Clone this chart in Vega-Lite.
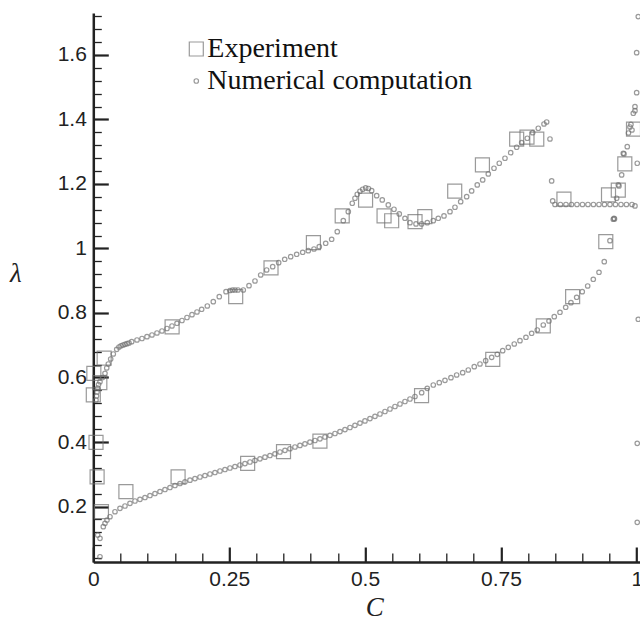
{
"$schema": "https://vega.github.io/schema/vega-lite/v6.json",
"width": 547, "height": 549,
"autosize": {"type": "none"},
"padding": {"left": 93.3, "top": 13, "right": 0, "bottom": 59},
"background": "white",
"config": {"view": {"stroke": null}},
"data": {"values": [
{"s":"Experiment","c":0.001,"l":0.613},{"s":"Experiment","c":0.000,"l":0.546},{"s":"Experiment","c":0.020,"l":0.660},{"s":"Experiment","c":0.012,"l":0.584},
{"s":"Experiment","c":0.145,"l":0.757},{"s":"Experiment","c":0.262,"l":0.851},{"s":"Experiment","c":0.327,"l":0.940},{"s":"Experiment","c":0.405,"l":1.018},
{"s":"Experiment","c":0.458,"l":1.101},{"s":"Experiment","c":0.501,"l":1.150},{"s":"Experiment","c":0.535,"l":1.101},{"s":"Experiment","c":0.549,"l":1.086},
{"s":"Experiment","c":0.592,"l":1.083},{"s":"Experiment","c":0.610,"l":1.099},{"s":"Experiment","c":0.665,"l":1.178},{"s":"Experiment","c":0.716,"l":1.259},
{"s":"Experiment","c":0.779,"l":1.339},{"s":"Experiment","c":0.798,"l":1.345},{"s":"Experiment","c":0.816,"l":1.339},{"s":"Experiment","c":0.866,"l":1.153},
{"s":"Experiment","c":0.948,"l":1.166},{"s":"Experiment","c":0.966,"l":1.181},{"s":"Experiment","c":0.978,"l":1.262},{"s":"Experiment","c":0.994,"l":1.370},
{"s":"Experiment","c":0.005,"l":0.399},{"s":"Experiment","c":0.007,"l":0.292},{"s":"Experiment","c":0.015,"l":0.184},{"s":"Experiment","c":0.060,"l":0.246},
{"s":"Experiment","c":0.156,"l":0.292},{"s":"Experiment","c":0.284,"l":0.334},{"s":"Experiment","c":0.350,"l":0.370},{"s":"Experiment","c":0.417,"l":0.403},
{"s":"Experiment","c":0.604,"l":0.544},{"s":"Experiment","c":0.735,"l":0.656},{"s":"Experiment","c":0.828,"l":0.760},{"s":"Experiment","c":0.882,"l":0.851},
{"s":"Experiment","c":0.943,"l":1.021},
{"s":"Numerical computation","c":0.0123,"l":0.0443},{"s":"Numerical computation","c":0.0081,"l":0.1116},{"s":"Numerical computation","c":0.0123,"l":0.1014},{"s":"Numerical computation","c":0.0184,"l":0.1374},
{"s":"Numerical computation","c":0.0215,"l":0.1479},{"s":"Numerical computation","c":0.0252,"l":0.1581},{"s":"Numerical computation","c":0.0307,"l":0.1684},{"s":"Numerical computation","c":0.0399,"l":0.1839},
{"s":"Numerical computation","c":0.0491,"l":0.1944},{"s":"Numerical computation","c":0.0583,"l":0.2016},{"s":"Numerical computation","c":0.0675,"l":0.2099},{"s":"Numerical computation","c":0.0767,"l":0.2171},
{"s":"Numerical computation","c":0.0859,"l":0.2223},{"s":"Numerical computation","c":0.0951,"l":0.2279},{"s":"Numerical computation","c":0.1043,"l":0.2341},{"s":"Numerical computation","c":0.1135,"l":0.2403},
{"s":"Numerical computation","c":0.1227,"l":0.2465},{"s":"Numerical computation","c":0.1319,"l":0.2527},{"s":"Numerical computation","c":0.1411,"l":0.2589},{"s":"Numerical computation","c":0.1503,"l":0.2651},
{"s":"Numerical computation","c":0.1595,"l":0.2713},{"s":"Numerical computation","c":0.1687,"l":0.2766},{"s":"Numerical computation","c":0.1779,"l":0.2816},{"s":"Numerical computation","c":0.1871,"l":0.2865},
{"s":"Numerical computation","c":0.1963,"l":0.2915},{"s":"Numerical computation","c":0.2055,"l":0.2961},{"s":"Numerical computation","c":0.2147,"l":0.3008},{"s":"Numerical computation","c":0.2239,"l":0.3054},
{"s":"Numerical computation","c":0.2331,"l":0.3101},{"s":"Numerical computation","c":0.2423,"l":0.3147},{"s":"Numerical computation","c":0.2515,"l":0.3194},{"s":"Numerical computation","c":0.2607,"l":0.3240},
{"s":"Numerical computation","c":0.2699,"l":0.3287},{"s":"Numerical computation","c":0.2791,"l":0.3330},{"s":"Numerical computation","c":0.2883,"l":0.3380},{"s":"Numerical computation","c":0.2975,"l":0.3429},
{"s":"Numerical computation","c":0.3067,"l":0.3479},{"s":"Numerical computation","c":0.3159,"l":0.3529},{"s":"Numerical computation","c":0.3251,"l":0.3581},{"s":"Numerical computation","c":0.3343,"l":0.3634},
{"s":"Numerical computation","c":0.3435,"l":0.3690},{"s":"Numerical computation","c":0.3527,"l":0.3743},{"s":"Numerical computation","c":0.3619,"l":0.3792},{"s":"Numerical computation","c":0.3711,"l":0.3845},
{"s":"Numerical computation","c":0.3803,"l":0.3895},{"s":"Numerical computation","c":0.3895,"l":0.3944},{"s":"Numerical computation","c":0.3987,"l":0.3997},{"s":"Numerical computation","c":0.4079,"l":0.4047},
{"s":"Numerical computation","c":0.4171,"l":0.4099},{"s":"Numerical computation","c":0.4263,"l":0.4155},{"s":"Numerical computation","c":0.4355,"l":0.4208},{"s":"Numerical computation","c":0.4447,"l":0.4264},
{"s":"Numerical computation","c":0.4539,"l":0.4322},{"s":"Numerical computation","c":0.4631,"l":0.4384},{"s":"Numerical computation","c":0.4723,"l":0.4450},{"s":"Numerical computation","c":0.4815,"l":0.4518},
{"s":"Numerical computation","c":0.4907,"l":0.4586},{"s":"Numerical computation","c":0.4999,"l":0.4654},{"s":"Numerical computation","c":0.5091,"l":0.4726},{"s":"Numerical computation","c":0.5183,"l":0.4797},
{"s":"Numerical computation","c":0.5275,"l":0.4868},{"s":"Numerical computation","c":0.5367,"l":0.4946},{"s":"Numerical computation","c":0.5459,"l":0.5023},{"s":"Numerical computation","c":0.5551,"l":0.5101},
{"s":"Numerical computation","c":0.5643,"l":0.5178},{"s":"Numerical computation","c":0.5735,"l":0.5256},{"s":"Numerical computation","c":0.5827,"l":0.5333},{"s":"Numerical computation","c":0.5919,"l":0.5411},
{"s":"Numerical computation","c":0.6042,"l":0.5529},{"s":"Numerical computation","c":0.6145,"l":0.5665},{"s":"Numerical computation","c":0.6256,"l":0.5767},{"s":"Numerical computation","c":0.6366,"l":0.5839},
{"s":"Numerical computation","c":0.6471,"l":0.5913},{"s":"Numerical computation","c":0.6581,"l":0.5994},{"s":"Numerical computation","c":0.6686,"l":0.6078},{"s":"Numerical computation","c":0.6797,"l":0.6149},
{"s":"Numerical computation","c":0.6900,"l":0.6233},{"s":"Numerical computation","c":0.7010,"l":0.6335},{"s":"Numerical computation","c":0.7115,"l":0.6419},{"s":"Numerical computation","c":0.7220,"l":0.6521},
{"s":"Numerical computation","c":0.7330,"l":0.6626},{"s":"Numerical computation","c":0.7433,"l":0.6719},{"s":"Numerical computation","c":0.7533,"l":0.6831},{"s":"Numerical computation","c":0.7636,"l":0.6936},
{"s":"Numerical computation","c":0.7746,"l":0.7039},{"s":"Numerical computation","c":0.7851,"l":0.7141},{"s":"Numerical computation","c":0.7961,"l":0.7247},{"s":"Numerical computation","c":0.8066,"l":0.7371},
{"s":"Numerical computation","c":0.8169,"l":0.7473},{"s":"Numerical computation","c":0.8280,"l":0.7628},{"s":"Numerical computation","c":0.8385,"l":0.7752},{"s":"Numerical computation","c":0.8482,"l":0.7885},
{"s":"Numerical computation","c":0.8587,"l":0.8022},{"s":"Numerical computation","c":0.8692,"l":0.8177},{"s":"Numerical computation","c":0.8789,"l":0.8319},{"s":"Numerical computation","c":0.8894,"l":0.8487},
{"s":"Numerical computation","c":0.8997,"l":0.8660},{"s":"Numerical computation","c":0.9097,"l":0.8837},{"s":"Numerical computation","c":0.9200,"l":0.9045},{"s":"Numerical computation","c":0.9305,"l":0.9262},
{"s":"Numerical computation","c":0.9402,"l":0.9591},{"s":"Numerical computation","c":0.9507,"l":1.0242},{"s":"Numerical computation","c":0.9568,"l":1.0906},{"s":"Numerical computation","c":0.9581,"l":1.0936},
{"s":"Numerical computation","c":0.9590,"l":1.0915},
{"s":"Numerical computation","c":0.9630,"l":1.1557},{"s":"Numerical computation","c":0.9660,"l":1.1969},{"s":"Numerical computation","c":0.9673,"l":1.1938},{"s":"Numerical computation","c":0.9722,"l":1.2279},
{"s":"Numerical computation","c":0.9752,"l":1.2952},{"s":"Numerical computation","c":0.9765,"l":1.2930},{"s":"Numerical computation","c":0.9825,"l":1.3157},{"s":"Numerical computation","c":0.9847,"l":1.3581},
{"s":"Numerical computation","c":0.9875,"l":1.3767},{"s":"Numerical computation","c":0.9893,"l":1.3845},{"s":"Numerical computation","c":0.9912,"l":1.3674},{"s":"Numerical computation","c":0.9936,"l":1.4192},
{"s":"Numerical computation","c":0.9967,"l":1.4397},{"s":"Numerical computation","c":0.9967,"l":1.4273},{"s":"Numerical computation","c":0.9998,"l":1.4831},{"s":"Numerical computation","c":0.9998,"l":1.6071},
{"s":"Numerical computation","c":1.0028,"l":1.7188},{"s":"Numerical computation","c":1.0009,"l":1.2642},{"s":"Numerical computation","c":0.9967,"l":1.1318},{"s":"Numerical computation","c":1.0028,"l":0.7805},
{"s":"Numerical computation","c":1.0009,"l":0.3960},{"s":"Numerical computation","c":1.0009,"l":0.1510},
{"s":"Numerical computation","c":0.0050,"l":0.5302},{"s":"Numerical computation","c":0.0059,"l":0.5426},{"s":"Numerical computation","c":0.0068,"l":0.5550},{"s":"Numerical computation","c":0.0081,"l":0.5674},
{"s":"Numerical computation","c":0.0096,"l":0.5783},{"s":"Numerical computation","c":0.0123,"l":0.5870},{"s":"Numerical computation","c":0.0169,"l":0.6000},{"s":"Numerical computation","c":0.0215,"l":0.6130},
{"s":"Numerical computation","c":0.0247,"l":0.6295},{"s":"Numerical computation","c":0.0276,"l":0.6419},{"s":"Numerical computation","c":0.0320,"l":0.6574},{"s":"Numerical computation","c":0.0368,"l":0.6729},
{"s":"Numerical computation","c":0.0431,"l":0.6874},{"s":"Numerical computation","c":0.0473,"l":0.6946},{"s":"Numerical computation","c":0.0510,"l":0.6983},{"s":"Numerical computation","c":0.0546,"l":0.7008},
{"s":"Numerical computation","c":0.0583,"l":0.7029},{"s":"Numerical computation","c":0.0620,"l":0.7048},{"s":"Numerical computation","c":0.0657,"l":0.7070},{"s":"Numerical computation","c":0.0707,"l":0.7110},
{"s":"Numerical computation","c":0.0804,"l":0.7163},{"s":"Numerical computation","c":0.0896,"l":0.7209},{"s":"Numerical computation","c":0.0988,"l":0.7265},{"s":"Numerical computation","c":0.1080,"l":0.7318},
{"s":"Numerical computation","c":0.1172,"l":0.7380},{"s":"Numerical computation","c":0.1264,"l":0.7442},{"s":"Numerical computation","c":0.1356,"l":0.7519},{"s":"Numerical computation","c":0.1448,"l":0.7597},
{"s":"Numerical computation","c":0.1540,"l":0.7681},{"s":"Numerical computation","c":0.1632,"l":0.7767},{"s":"Numerical computation","c":0.1724,"l":0.7860},{"s":"Numerical computation","c":0.1816,"l":0.7947},
{"s":"Numerical computation","c":0.1908,"l":0.8031},{"s":"Numerical computation","c":0.1994,"l":0.8115},{"s":"Numerical computation","c":0.2098,"l":0.8217},{"s":"Numerical computation","c":0.2208,"l":0.8350},
{"s":"Numerical computation","c":0.2318,"l":0.8505},{"s":"Numerical computation","c":0.2442,"l":0.8660},{"s":"Numerical computation","c":0.2515,"l":0.8698},{"s":"Numerical computation","c":0.2561,"l":0.8713},
{"s":"Numerical computation","c":0.2607,"l":0.8713},{"s":"Numerical computation","c":0.2662,"l":0.8713},{"s":"Numerical computation","c":0.2760,"l":0.8713},{"s":"Numerical computation","c":0.2865,"l":0.8847},
{"s":"Numerical computation","c":0.2975,"l":0.8992},{"s":"Numerical computation","c":0.3080,"l":0.9178},{"s":"Numerical computation","c":0.3190,"l":0.9333},{"s":"Numerical computation","c":0.3301,"l":0.9436},
{"s":"Numerical computation","c":0.3411,"l":0.9560},{"s":"Numerical computation","c":0.3522,"l":0.9665},{"s":"Numerical computation","c":0.3632,"l":0.9746},{"s":"Numerical computation","c":0.3742,"l":0.9820},
{"s":"Numerical computation","c":0.3853,"l":0.9882},{"s":"Numerical computation","c":0.3956,"l":0.9932},{"s":"Numerical computation","c":0.4061,"l":0.9984},{"s":"Numerical computation","c":0.4158,"l":1.0056},
{"s":"Numerical computation","c":0.4276,"l":1.0161},{"s":"Numerical computation","c":0.4386,"l":1.0285},{"s":"Numerical computation","c":0.4489,"l":1.0521},{"s":"Numerical computation","c":0.4600,"l":1.0862},
{"s":"Numerical computation","c":0.4692,"l":1.1141},{"s":"Numerical computation","c":0.4765,"l":1.1402},{"s":"Numerical computation","c":0.4815,"l":1.1557},{"s":"Numerical computation","c":0.4857,"l":1.1681},
{"s":"Numerical computation","c":0.4907,"l":1.1774},{"s":"Numerical computation","c":0.4957,"l":1.1836},{"s":"Numerical computation","c":0.5012,"l":1.1876},{"s":"Numerical computation","c":0.5063,"l":1.1860},
{"s":"Numerical computation","c":0.5122,"l":1.1792},{"s":"Numerical computation","c":0.5214,"l":1.1637},{"s":"Numerical computation","c":0.5317,"l":1.1504},{"s":"Numerical computation","c":0.5428,"l":1.1349},
{"s":"Numerical computation","c":0.5533,"l":1.1216},{"s":"Numerical computation","c":0.5630,"l":1.1070},{"s":"Numerical computation","c":0.5735,"l":1.0936},{"s":"Numerical computation","c":0.5827,"l":1.0800},
{"s":"Numerical computation","c":0.5938,"l":1.0760},{"s":"Numerical computation","c":0.6042,"l":1.0760},{"s":"Numerical computation","c":0.6145,"l":1.0800},{"s":"Numerical computation","c":0.6256,"l":1.0862},
{"s":"Numerical computation","c":0.6348,"l":1.0936},{"s":"Numerical computation","c":0.6453,"l":1.1008},{"s":"Numerical computation","c":0.6563,"l":1.1141},{"s":"Numerical computation","c":0.6655,"l":1.1278},
{"s":"Numerical computation","c":0.6760,"l":1.1451},{"s":"Numerical computation","c":0.6870,"l":1.1606},{"s":"Numerical computation","c":0.6962,"l":1.1783},{"s":"Numerical computation","c":0.7065,"l":1.1969},
{"s":"Numerical computation","c":0.7165,"l":1.2124},{"s":"Numerical computation","c":0.7268,"l":1.2310},{"s":"Numerical computation","c":0.7373,"l":1.2487},{"s":"Numerical computation","c":0.7470,"l":1.2642},
{"s":"Numerical computation","c":0.7575,"l":1.2797},{"s":"Numerical computation","c":0.7680,"l":1.2971},{"s":"Numerical computation","c":0.7790,"l":1.3138},{"s":"Numerical computation","c":0.7882,"l":1.3281},
{"s":"Numerical computation","c":0.7985,"l":1.3417},{"s":"Numerical computation","c":0.8085,"l":1.3591},{"s":"Numerical computation","c":0.8188,"l":1.3727},{"s":"Numerical computation","c":0.8293,"l":1.3860},
{"s":"Numerical computation","c":0.8342,"l":1.3922},{"s":"Numerical computation","c":0.8403,"l":1.3395},{"s":"Numerical computation","c":0.8434,"l":1.2093},{"s":"Numerical computation","c":0.8453,"l":1.1473},
{"s":"Numerical computation","c":0.8495,"l":1.1364},{"s":"Numerical computation","c":0.8596,"l":1.1364},{"s":"Numerical computation","c":0.8697,"l":1.1364},{"s":"Numerical computation","c":0.8799,"l":1.1364},
{"s":"Numerical computation","c":0.8900,"l":1.1364},{"s":"Numerical computation","c":0.9001,"l":1.1364},{"s":"Numerical computation","c":0.9102,"l":1.1364},{"s":"Numerical computation","c":0.9203,"l":1.1364},
{"s":"Numerical computation","c":0.9305,"l":1.1364},{"s":"Numerical computation","c":0.9406,"l":1.1364},{"s":"Numerical computation","c":0.9507,"l":1.1364},{"s":"Numerical computation","c":0.9608,"l":1.1364},
{"s":"Numerical computation","c":0.9709,"l":1.1364},{"s":"Numerical computation","c":0.9810,"l":1.1364},{"s":"Numerical computation","c":0.9912,"l":1.1364}
]},
"mark": {"type": "point", "filled": false, "color": "#707070", "strokeWidth": 1.2, "clip": false},
"encoding": {
  "x": {"field": "c", "type": "quantitative",
    "scale": {"domain": [0, 1.0065], "nice": false, "zero": false},
    "axis": {
      "values": [0,0.05,0.1,0.15,0.2,0.25,0.3,0.35,0.4,0.45,0.5,0.55,0.6,0.65,0.7,0.75,0.8,0.85,0.9,0.95,1],
      "labelExpr": "abs(datum.value*4-round(datum.value*4))<0.001 ? toString(round(datum.value*4)/4) : ''",
      "tickSize": {"condition": {"test": "abs(datum.value*4-round(datum.value*4))<0.001", "value": -15}, "value": -9},
      "tickWidth": {"condition": {"test": "abs(datum.value*4-round(datum.value*4))<0.001", "value": 2.2}, "value": 1.3},
      "tickColor": "#222", "domainColor": "#222", "domainWidth": 2.5, "grid": false,
      "labelFont": "Liberation Sans", "labelFontSize": 21, "labelColor": "#222", "labelPadding": 22,
      "labelFlush": false, "labelOverlap": false,
      "title": "C", "titleFont": "Liberation Serif", "titleFontStyle": "italic", "titleFontWeight": "normal",
      "titleFontSize": 27, "titleColor": "#222", "titleX": 281, "titleY": 46, "titleBaseline": "middle", "titleAlign": "center"
    }
  },
  "y": {"field": "l", "type": "quantitative",
    "scale": {"domain": [0.028, 1.73], "nice": false, "zero": false},
    "axis": {
      "values": [0.04,0.08,0.12,0.16,0.2,0.24,0.28,0.32,0.36,0.4,0.44,0.48,0.52,0.56,0.6,0.64,0.68,0.72,0.76,0.8,0.84,0.88,0.92,0.96,1,1.04,1.08,1.12,1.16,1.2,1.24,1.28,1.32,1.36,1.4,1.44,1.48,1.52,1.56,1.6,1.64,1.68,1.72],
      "labelExpr": "abs(datum.value*5-round(datum.value*5))<0.001 ? toString(round(datum.value*5)/5) : ''",
      "tickSize": {"condition": {"test": "abs(datum.value*5-round(datum.value*5))<0.001", "value": -15}, "value": -8},
      "tickWidth": {"condition": {"test": "abs(datum.value*5-round(datum.value*5))<0.001", "value": 2.2}, "value": 1.3},
      "tickColor": "#222", "domainColor": "#222", "domainWidth": 2.5, "grid": false,
      "labelFont": "Liberation Sans", "labelFontSize": 21, "labelColor": "#222", "labelPadding": 22,
      "labelFlush": false, "labelOverlap": false,
      "title": "λ", "titleAngle": 0, "titleFont": "Liberation Serif", "titleFontStyle": "italic", "titleFontWeight": "normal",
      "titleFontSize": 27, "titleColor": "#222", "titleX": -78, "titleY": 260, "titleBaseline": "middle", "titleAlign": "center"
    }
  },
  "shape": {"field": "s", "type": "nominal",
    "scale": {"domain": ["Experiment", "Numerical computation"], "range": ["square", "circle"]},
    "legend": {"orient": "none", "legendX": 89, "legendY": 22, "title": null, "padding": 0,
      "labelFont": "Liberation Serif", "labelFontSize": 28, "labelColor": "#111", "labelOffset": -3, "labelLimit": 0,
      "rowPadding": 4, "symbolStrokeColor": "#707070", "symbolStrokeWidth": 1.2}
  },
  "size": {"field": "s", "type": "nominal",
    "scale": {"domain": ["Experiment", "Numerical computation"], "range": [196, 20]},
    "legend": {"orient": "none", "legendX": 89, "legendY": 22, "title": null, "padding": 0,
      "labelFont": "Liberation Serif", "labelFontSize": 28, "labelColor": "#111", "labelOffset": -3, "labelLimit": 0,
      "rowPadding": 4, "symbolStrokeColor": "#707070", "symbolStrokeWidth": 1.2}
  }
}
}
